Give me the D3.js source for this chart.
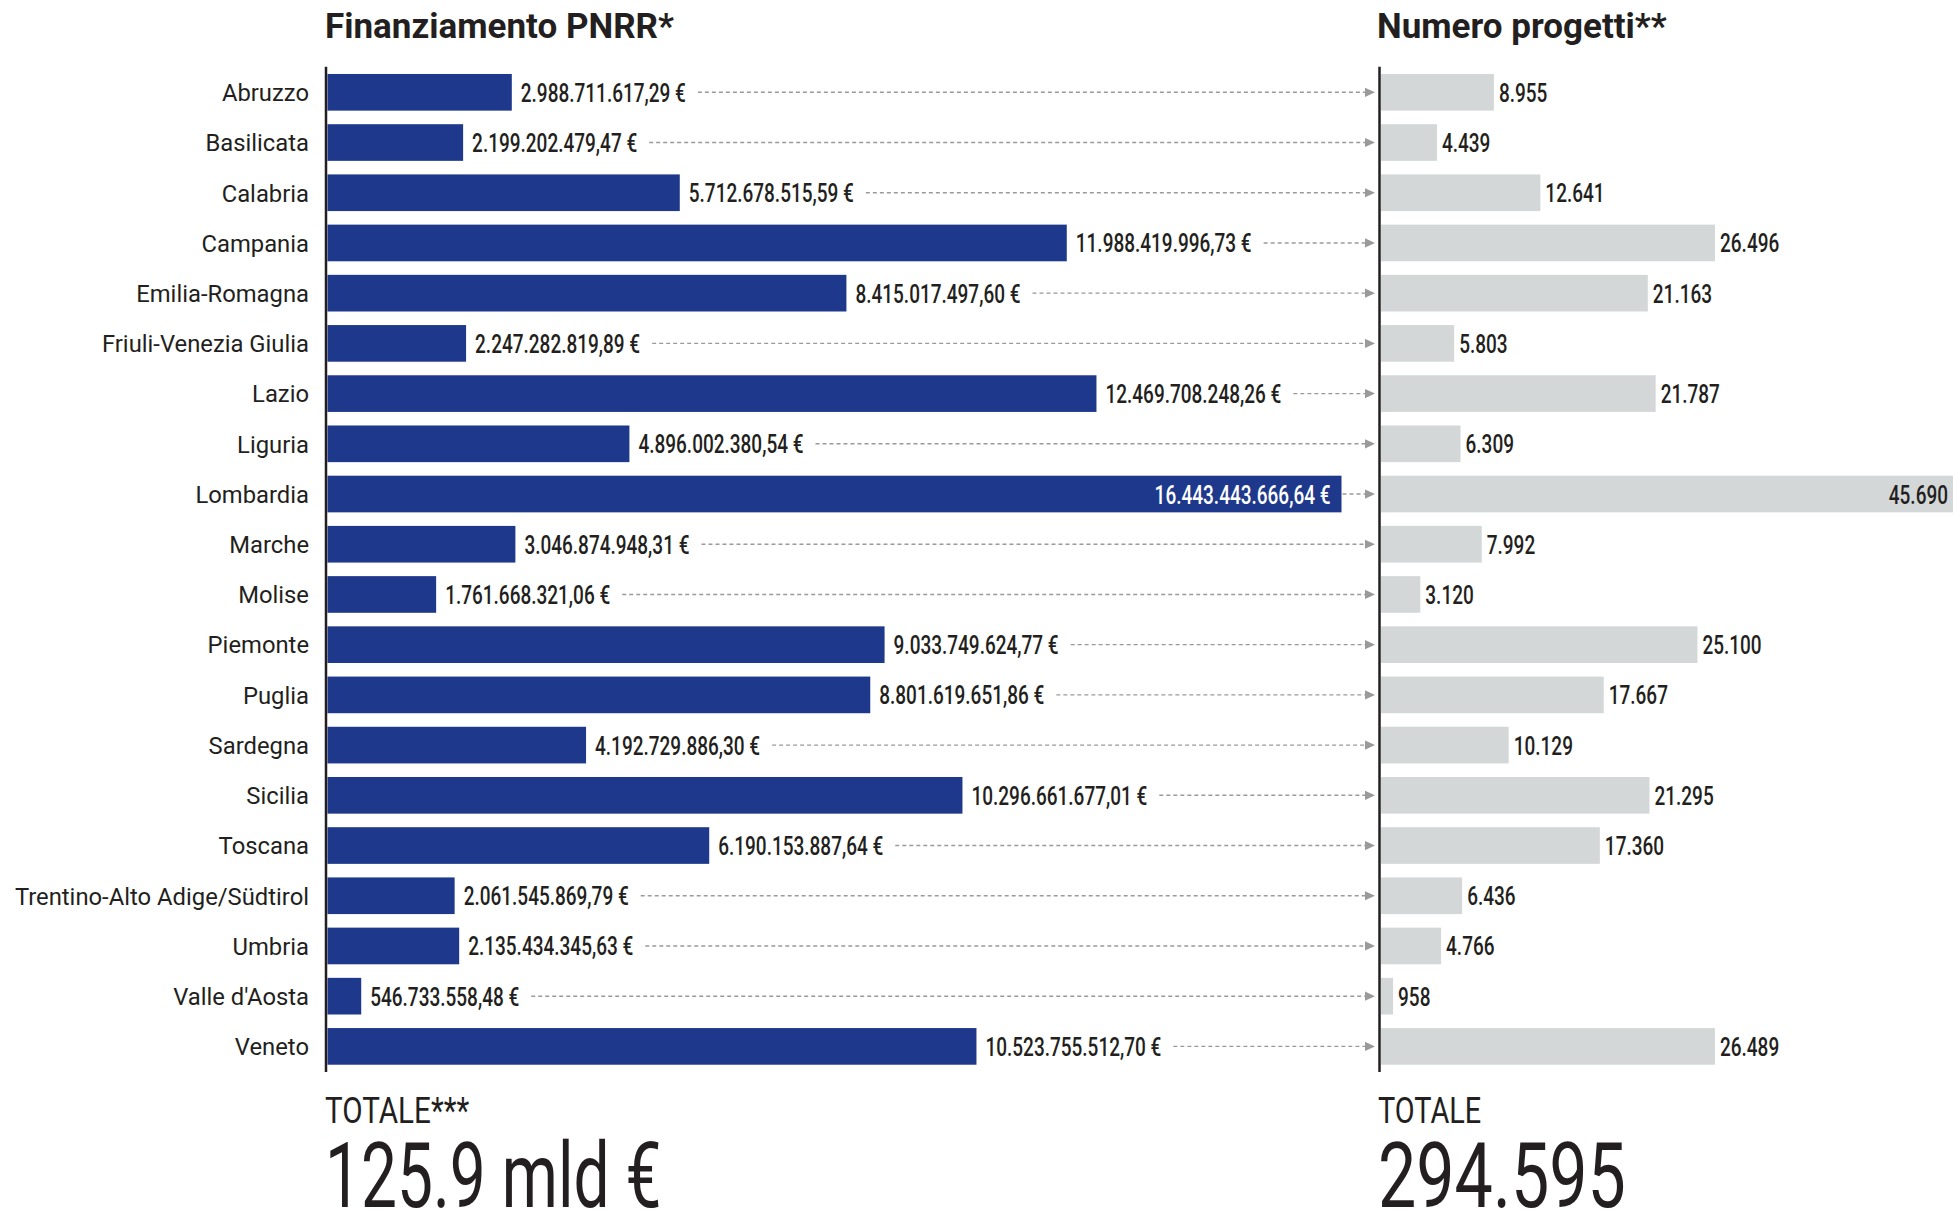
<!DOCTYPE html>
<html><head><meta charset="utf-8">
<script src="https://cdn.jsdelivr.net/npm/d3@7"></script>
<style>body{margin:0;background:#fff;} svg{display:block;}</style>
</head><body>
<svg id="chart" width="1953" height="1212"></svg>
<script>
const regions = ["Abruzzo","Basilicata","Calabria","Campania","Emilia-Romagna","Friuli-Venezia Giulia","Lazio","Liguria","Lombardia","Marche","Molise","Piemonte","Puglia","Sardegna","Sicilia","Toscana","Trentino-Alto Adige/Südtirol","Umbria","Valle d'Aosta","Veneto"];
const funding = [2988711617.29,2199202479.47,5712678515.59,11988419996.73,8415017497.60,2247282819.89,12469708248.26,4896002380.54,16443443666.64,3046874948.31,1761668321.06,9033749624.77,8801619651.86,4192729886.30,10296661677.01,6190153887.64,2061545869.79,2135434345.63,546733558.48,10523755512.70];
const projects = [8955,4439,12641,26496,21163,5803,21787,6309,45690,7992,3120,25100,17667,10129,21295,17360,6436,4766,958,26489];
const titles = ["Finanziamento PNRR*","Numero progetti**"];
const totalLabels = ["TOTALE***","TOTALE"];
const totalValues = ["125.9 mld €","294.595"];

const svg = d3.select("#chart");
const INK = "#231f20", BLUE = "#1e398b", GREY = "#d4d7d8", DASH = "#9a9a9a";
const it = d3.formatLocale({decimal:",",thousands:".",grouping:[3],currency:["","€"]});
const fmtEuro = v => it.format(",.2f")(v) + " €";
const fmtInt = it.format(",d");

const y = d3.scaleBand().domain(regions).range([66.7,1072]).paddingInner(0.27).paddingOuter(0.145);
const xL = d3.scaleLinear().domain([0,d3.max(funding)]).range([327.5,1341.5]);
const xR = d3.scaleLinear().domain([0,d3.max(projects)]).range([1381,1957]);

function ctext(parent,x,yy,str,o){
  const sx = o.sx==null?0.76:o.sx;
  const g = parent.append("g").attr("transform",`translate(${x},${yy}) scale(${sx},1)`);
  const t = g.append("text").attr("font-family","Roboto, 'Noto Sans', sans-serif")
    .attr("font-size",o.size).attr("font-weight",o.weight||400)
    .attr("text-anchor",o.anchor||"start").attr("fill",o.fill||INK).text(str);
  return t.node().getComputedTextLength()*sx;
}

// titles
svg.append("text").attr("x",325).attr("y",38).attr("font-family","Roboto").attr("font-weight",700)
  .attr("font-size",35).attr("fill",INK).text(titles[0]);
svg.append("text").attr("x",1377).attr("y",38).attr("font-family","Roboto").attr("font-weight",700)
  .attr("font-size",35).attr("fill",INK).text(titles[1]);

// category labels
svg.append("g").selectAll("text").data(regions).join("text")
  .attr("x",309).attr("y",d=>y(d)+y.bandwidth()/2+8.8)
  .attr("text-anchor","end").attr("font-family","Roboto").attr("font-size",23.8).attr("fill",INK)
  .text(d=>d);

// left bars
svg.append("g").selectAll("rect").data(regions).join("rect")
  .attr("x",xL(0)).attr("y",d=>y(d)).attr("height",y.bandwidth())
  .attr("width",(d,i)=>xL(funding[i])-xL(0)).attr("fill",BLUE);

// right bars
svg.append("g").selectAll("rect").data(regions).join("rect")
  .attr("x",xR(0)).attr("y",d=>y(d)).attr("height",y.bandwidth())
  .attr("width",(d,i)=>xR(projects[i])-xR(0)).attr("fill",GREY);

// axes lines
svg.append("line").attr("x1",326).attr("x2",326).attr("y1",66.7).attr("y2",1072).attr("stroke",INK).attr("stroke-width",2.5);
svg.append("line").attr("x1",1379.5).attr("x2",1379.5).attr("y1",66.7).attr("y2",1072).attr("stroke",INK).attr("stroke-width",2.5);

const maxF = d3.max(funding), maxP = d3.max(projects);
const lab = svg.append("g"), dashes = svg.append("g");
regions.forEach((r,i)=>{
  const cy = y(r)+y.bandwidth()/2;
  const v = funding[i];
  let startDash;
  if (v===maxF){
    ctext(lab,xL(v)-11,cy+9.5,fmtEuro(v),{size:25,weight:500,anchor:"end",fill:"#fff"});
    startDash = xL(v)+1;
  } else {
    const w = ctext(lab,xL(v)+9,cy+9.5,fmtEuro(v),{size:25,weight:500});
    startDash = xL(v)+9+w+12;
  }
  dashes.append("line").attr("x1",startDash).attr("x2",1366).attr("y1",cy).attr("y2",cy)
    .attr("stroke",DASH).attr("stroke-width",1.4).attr("stroke-dasharray","4,3");
  dashes.append("path").attr("d",`M1365,${cy-4.6}L1375,${cy}L1365,${cy+4.6}Z`).attr("fill",DASH);
  const p = projects[i];
  if (p===maxP){
    ctext(lab,1948,cy+9.5,fmtInt(p),{size:25,weight:500,anchor:"end"});
  } else {
    ctext(lab,xR(p)+5,cy+9.5,fmtInt(p),{size:25,weight:500});
  }
});

// totals
ctext(svg,325,1123,totalLabels[0],{size:37.5,sx:0.79});
ctext(svg,325,1206.7,totalValues[0],{size:91.5,sx:0.7});
ctext(svg,1378,1123,totalLabels[1],{size:37.5,sx:0.77});
ctext(svg,1378,1206.7,totalValues[1],{size:91.5,sx:0.745});
</script>
</body></html>
